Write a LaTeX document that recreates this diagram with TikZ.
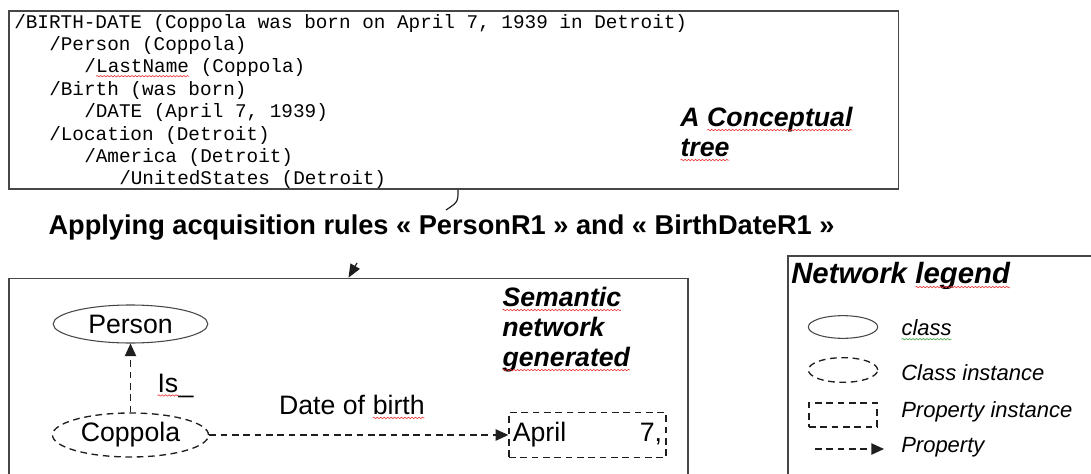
\documentclass[tikz,border=0pt]{standalone}
\usepackage{fontspec}
\setmainfont{Liberation Sans}
\setmonofont{Liberation Mono}
\usepackage{tikz}
\usetikzlibrary{arrows.meta, positioning, shapes.geometric, decorations.pathmorphing}
\usepackage{xcolor}
\definecolor{ink}{RGB}{30,30,30}
\definecolor{edge}{RGB}{70,70,70}
\definecolor{spell}{RGB}{235,50,50}
\definecolor{grammar}{RGB}{70,165,70}

\tikzset{
  panel/.style={draw=edge, line width=1pt, rectangle, inner sep=0pt},
  treeline/.style={anchor=west, inner sep=0pt, font=\ttfamily\fontsize{14.5}{17}\selectfont},
  caption/.style={anchor=north west, inner sep=0pt, align=left,
                  font=\bfseries\itshape\fontsize{20}{22.5}\selectfont},
  word/.style={inner sep=0pt, font=\fontsize{20}{24}\selectfont},
  keytext/.style={anchor=west, inner sep=0pt, font=\itshape\fontsize{16.5}{20}\selectfont},
  dashline/.style={dash pattern=on 5pt off 3.5pt},
  concept/.style={ellipse, draw=edge, line width=0.8pt, inner sep=0pt,
                  minimum width=116pt, minimum height=28.5pt, font=\fontsize{20}{24}\selectfont},
  instance/.style={concept, draw=ink, line width=1pt, dashline},
  propbox/.style={rectangle, draw=ink, line width=1pt, dashline, inner sep=0pt,
                  minimum width=117.75pt, minimum height=33.75pt, font=\fontsize{20}{24}\selectfont},
  prop/.style={draw=ink, line width=1pt, dashline, -{Triangle[length=9.5pt, width=8.5pt]}},
  plainword/.style={shape=rectangle, draw=none, fill=none, inner sep=0pt, outer sep=0pt,
                    minimum width=0pt, minimum height=0pt, align=none},
  squiggle/.style={solid, line width=0.45pt, decorate,
                   decoration={snake, amplitude=0.55pt, segment length=2.6pt}}
}

% word with a wavy mark under it
\newcommand{\typo}[2][spell]{%
  \tikz[baseline=(sw.base)]{%
    \node[plainword] (sw) {#2};
    \draw[squiggle, draw=#1] ([yshift=-2.6pt]sw.base west) -- ([yshift=-2.6pt]sw.base east);}}

\begin{document}
\begin{tikzpicture}[x=0.75pt, y=-0.75pt]
  \useasboundingbox (0,0) rectangle (1091,474);
  \clip (0,0) rectangle (1091,474);

  % conceptual tree
  \node[panel, minimum width=667pt, minimum height=133.5pt] (tree) at (453.5,100) {};
  \node[treeline] (t1) at (14,24) {/BIRTH-DATE (Coppola was born on April 7, 1939 in Detroit)};
  \node[treeline] (t2) at (49,46) {/Person (Coppola)};
  \node[treeline] (t3) at (84,68) {/\typo{LastName} (Coppola)};
  \node[treeline] (t4) at (49,91) {/Birth (was born)};
  \node[treeline] (t5) at (84,113) {/DATE (April 7, 1939)};
  \node[treeline] (t6) at (49,136) {/Location (Detroit)};
  \node[treeline] (t7) at (84,158) {/America (Detroit)};
  \node[treeline] (t8) at (119,180) {/UnitedStates (Detroit)};
  \node[caption] (treename) at (680,107) {A \typo{Conceptual}\\\typo{tree}};

  % semantic network
  \node[panel, minimum width=509.25pt, minimum height=160pt] (net) at (348.5,385) {};
  \node[caption] (netname) at (502,287) {\typo{Semantic}\\network\\\typo{generated}};
  \node[concept] (person) at (130.5,324) {Person};
  \node[instance, minimum width=117pt, minimum height=33pt] (coppola) at (130.5,435) {Coppola};
  \node[propbox] (april) at (587.5,435) {\makebox[112pt]{April\hfill 7,}};
  \draw[prop] (coppola) -- (person);
  \node[word, anchor=base west] (isa) at (157,392) {\typo{Is}\_};
  \draw[prop] (coppola.east) -- (april.west);
  \node[word] (birthdate) at (352,407) {Date of \typo{birth}};

  % rules applied between the two
  \node[font=\bfseries\fontsize{20.4}{24}\selectfont, inner sep=0pt] (rules) at (441.5,228)
    {Applying acquisition rules « PersonR1 » and « BirthDateR1 »};
  \coordinate (gapA) at (446,210);
  \coordinate (gapB) at (357,263);
  \draw[ink, line width=0.9pt] ([xshift=3.4pt]tree.south) .. controls (458,202) .. (gapA);
  \draw[ink, line width=0.9pt, -{Triangle[length=10pt, width=8pt]}] (gapB) -- (net.north);

  % legend
  \node[panel, minimum width=241.5pt, minimum height=183pt] (legend) at (949,378) {};
  \node[caption, anchor=west, font=\bfseries\itshape\fontsize{22}{26}\selectfont]
    (legendname) at (791,276) {Network \typo{legend}};
  \node[concept, minimum width=52pt, minimum height=17pt] (keyclass) at (843,327) {};
  \node[instance, minimum width=52pt, minimum height=18.5pt] (keyinst) at (843,370) {};
  \node[propbox, minimum width=51pt, minimum height=18pt] (keyprop) at (843,415) {};
  \coordinate (keyfrom) at (815,449);
  \coordinate (keyto) at (884,449);
  \draw[prop] (keyfrom) -- (keyto);
  \node[keytext] (classtext) at (901,330) {\typo[grammar]{class}};
  \node[keytext] (insttext) at (901,373) {Class instance};
  \node[keytext] (proptext) at (901,412) {Property instance};
  \node[keytext] (arrowtext) at (901,447) {Property};
\end{tikzpicture}
\end{document}
